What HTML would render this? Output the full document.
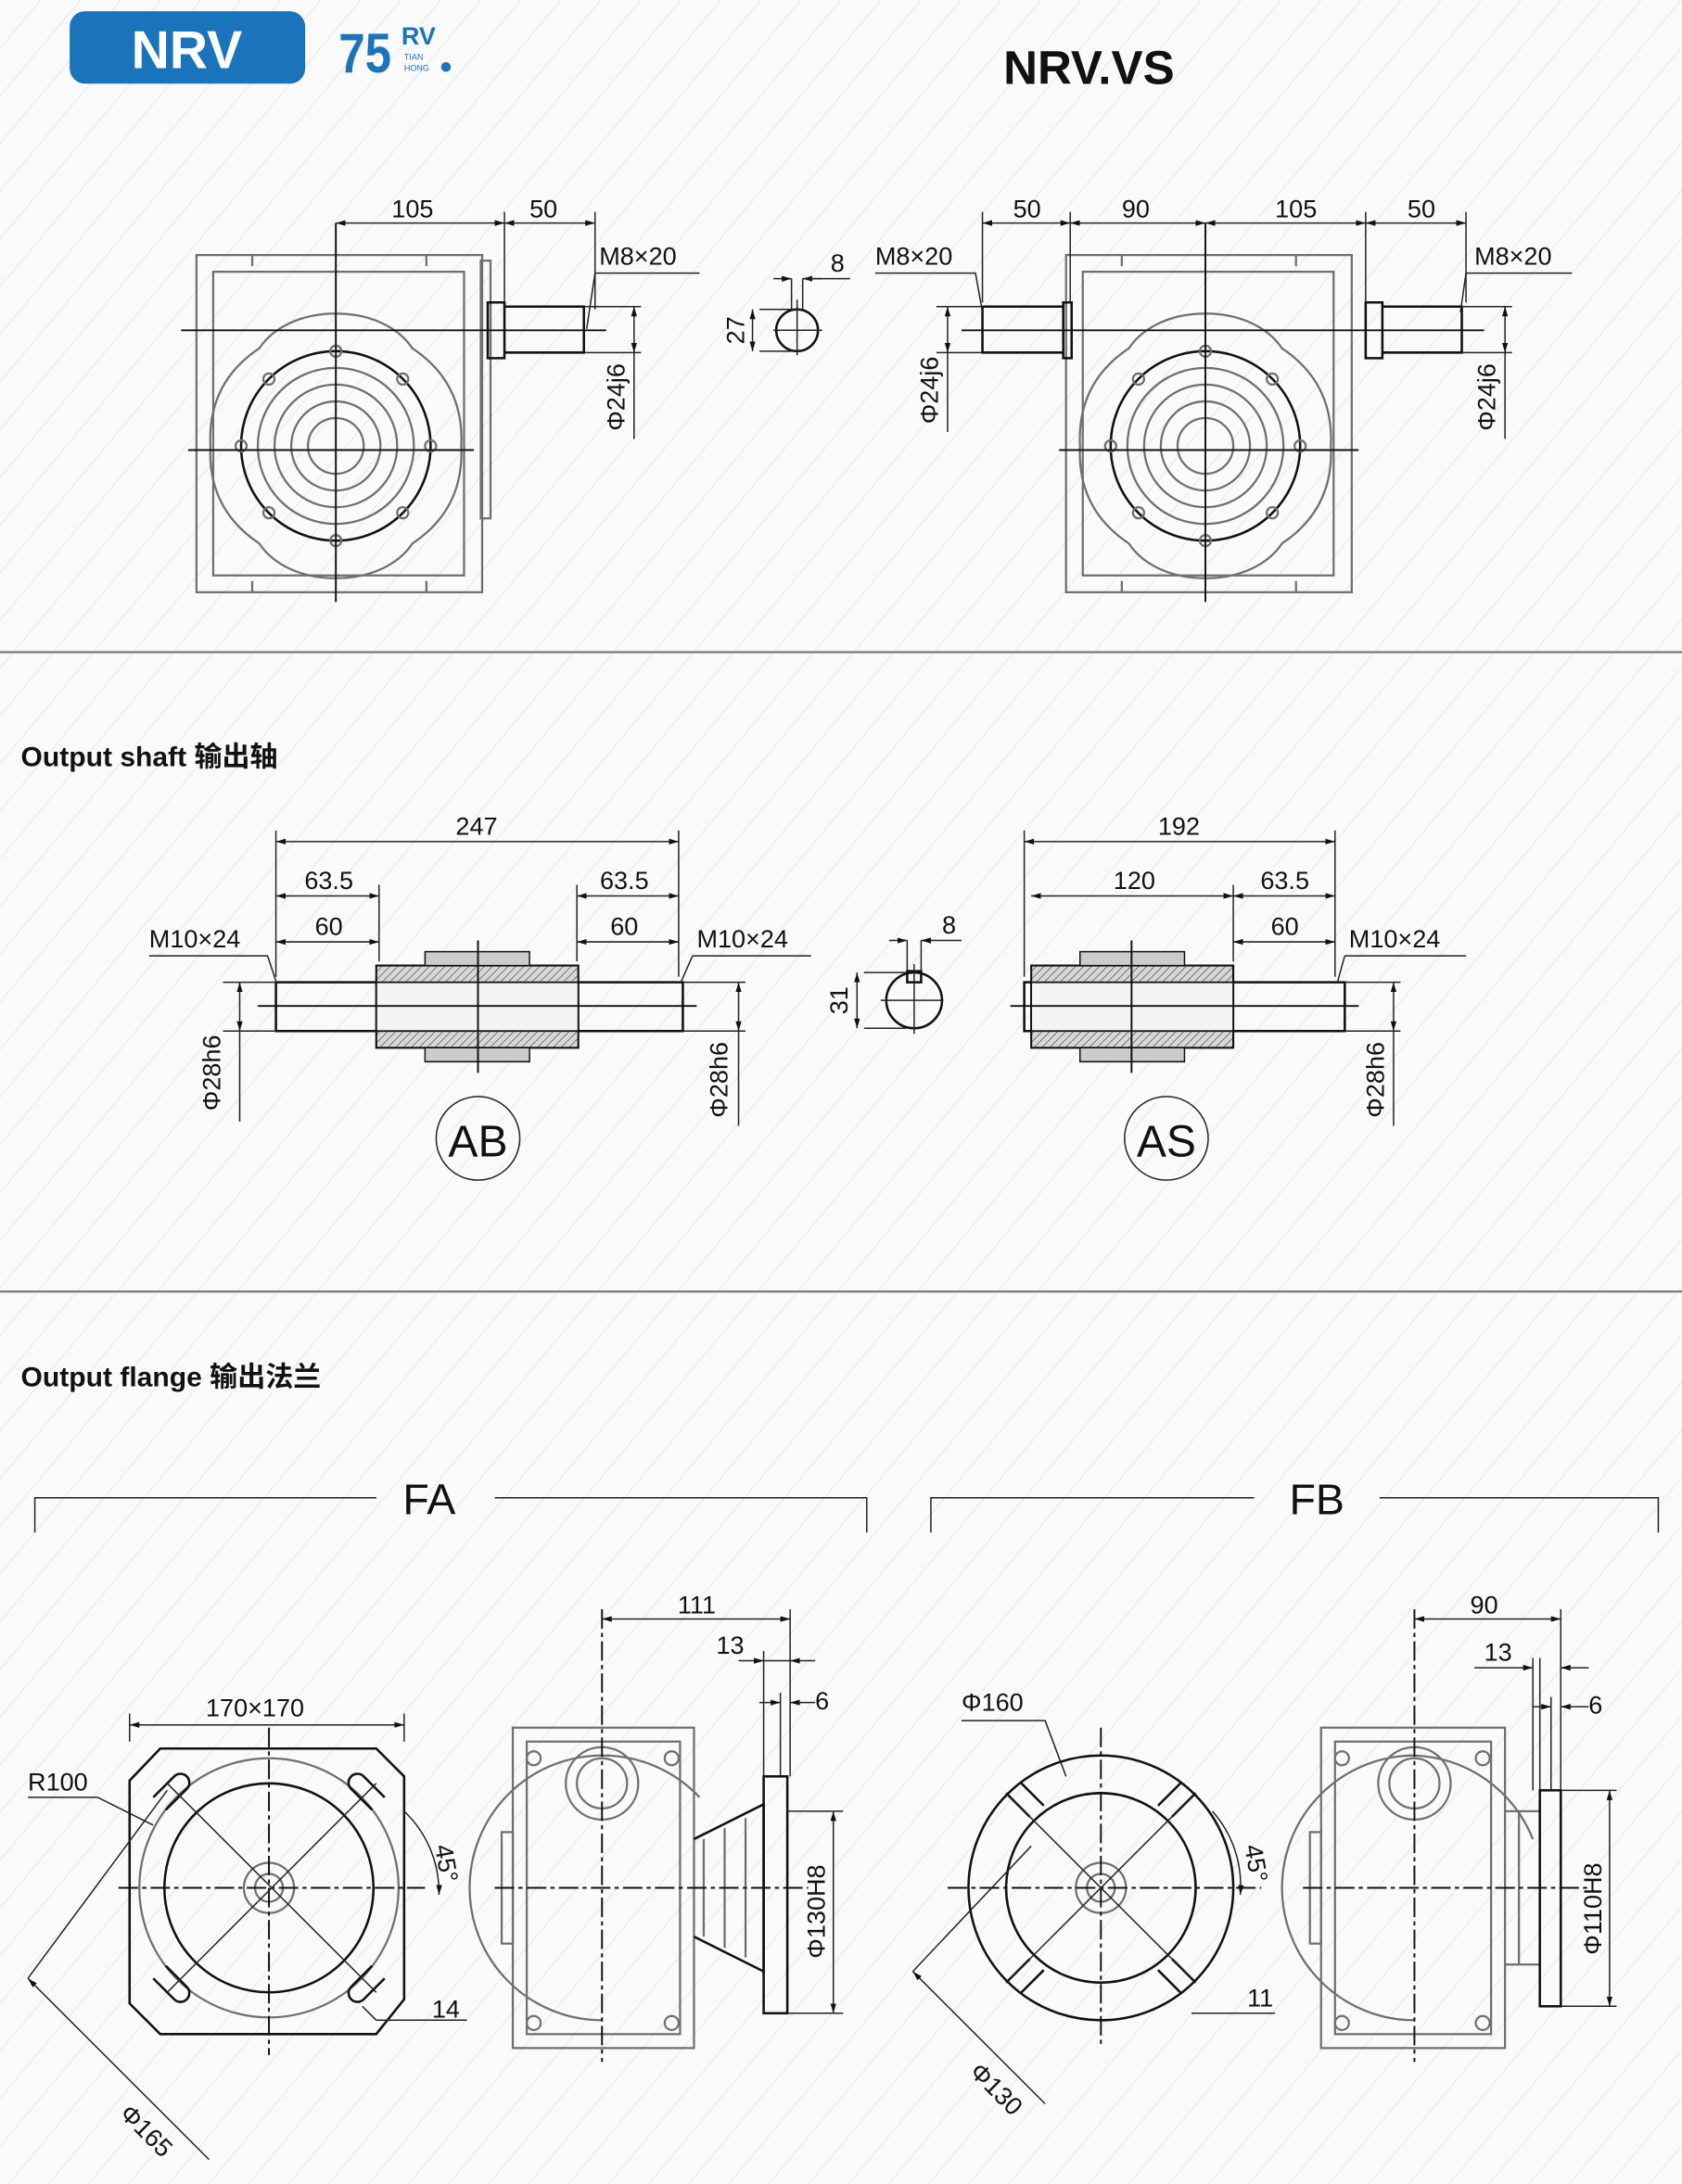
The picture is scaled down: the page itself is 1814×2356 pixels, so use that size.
<!DOCTYPE html>
<html><head><meta charset="utf-8"><style>
html,body{margin:0;padding:0;background:#fafafa}
svg{display:block}
text{font-family:"Liberation Sans","Noto Sans CJK SC",sans-serif;fill:#111}
.d{stroke:#222;stroke-width:1;fill:none}
.g{stroke:#6f6f6f;stroke-width:1.5;fill:none}
.k{stroke:#111;stroke-width:1.7;fill:none}
.c{stroke:#111;stroke-width:1.3}
.t{font-size:18px}
</style></head><body>
<svg width="1814" height="2356" viewBox="0 0 1207 1567.5" xmlns="http://www.w3.org/2000/svg">
<defs>
<pattern id="h" width="22" height="22" patternUnits="userSpaceOnUse" patternTransform="rotate(40)">
<rect width="22" height="22" fill="#fafafa"/><line x1="0" y1="0" x2="0" y2="22" stroke="#dcdcdc" stroke-width="0.8"/>
</pattern>
<pattern id="x" width="4" height="4" patternUnits="userSpaceOnUse" patternTransform="rotate(45)">
<rect width="4" height="4" fill="#d8d8d8"/><line x1="0" y1="0" x2="0" y2="4" stroke="#555" stroke-width="1"/>
</pattern>
<marker id="a" viewBox="0 0 10 10" refX="10" refY="5" markerWidth="7" markerHeight="7" orient="auto-start-reverse"><path d="M0,2 L10,5 L0,8 z" fill="#111"/></marker>
<g id="ring">
<path class="g" d="M-90,0 C-92,-40 -70,-60 -55,-70 C-45,-85 -25,-95 0,-95 C25,-95 45,-85 55,-70 C70,-60 92,-40 90,0 C92,40 70,60 55,70 C45,85 25,95 0,95 C-25,95 -45,85 -55,70 C-70,60 -92,40 -90,0 Z"/>
<circle r="68" class="k"/><circle r="56" class="g"/><circle r="44" class="g"/><circle r="32" class="g"/><circle r="20" class="g"/>
<circle cx="0" cy="-68" r="4" class="g"/><circle cx="0" cy="68" r="4" class="g"/><circle cx="-68" cy="0" r="4" class="g"/><circle cx="68" cy="0" r="4" class="g"/>
<circle cx="-48" cy="-48" r="4" class="g"/><circle cx="48" cy="-48" r="4" class="g"/><circle cx="-48" cy="48" r="4" class="g"/><circle cx="48" cy="48" r="4" class="g"/>
</g>
<g id="box">
<path class="g" d="M-100,-137 h205 v242 h-205 z M-88,-125 h180 v218 h-180 z"/>
<path class="g" d="M-60,-137 v8 M65,-137 v8 M-60,105 v-8 M65,105 v-8"/>
</g>
</defs>
<rect width="1207" height="1567.5" fill="url(#h)"/>

<!-- header -->
<rect x="50" y="8" width="169" height="52" rx="11" fill="#1a74bc"/>
<text x="134" y="49" text-anchor="middle" style="font-size:38px;fill:#fff;font-weight:bold">NRV</text>
<text x="243" y="52" style="font-size:40px;font-weight:bold;fill:#1a74bc" transform="scale(0.85,1)" transform-origin="243 52">75</text>
<text x="288" y="32" style="font-size:18px;font-weight:bold;fill:#1a74bc">RV</text>
<text x="290" y="43" style="font-size:6px;fill:#1a74bc">TIAN</text>
<text x="290" y="51" style="font-size:6px;fill:#1a74bc">HONG</text>
<circle cx="320" cy="48" r="3.5" fill="#1a74bc"/>
<text x="720" y="60" style="font-size:34px;font-weight:bold">NRV.VS</text>

<!-- top left -->
<g transform="translate(241,320)"><use href="#box"/><use href="#ring"/></g>
<rect x="345" y="187" width="7" height="185" class="g"/>
<line class="c" x1="241" y1="160" x2="241" y2="432"/>
<line class="c" x1="130" y1="237" x2="435" y2="237"/>
<line class="c" x1="135" y1="323" x2="340" y2="323"/>
<path class="k" d="M350,217 h12 v40 h-12 z M362,220 h57 v33 h-57 z"/>
<path class="d" d="M362,152 v65 M427,152 v70"/>
<line class="d" x1="241" y1="160" x2="362" y2="160" marker-start="url(#a)" marker-end="url(#a)"/>
<line class="d" x1="362" y1="160" x2="427" y2="160" marker-start="url(#a)" marker-end="url(#a)"/>
<text x="296" y="156" text-anchor="middle" class="t">105</text>
<text x="390" y="156" text-anchor="middle" class="t">50</text>
<text x="430" y="190" class="t">M8×20</text>
<path class="d" d="M427,196 h75 M427,196 l-6,40"/>
<path class="d" d="M420,220 h40 M420,253 h40"/>
<line class="d" x1="455" y1="220" x2="455" y2="253" marker-start="url(#a)" marker-end="url(#a)"/>
<line class="d" x1="455" y1="253" x2="455" y2="315"/>
<text transform="translate(448,285) rotate(-90)" text-anchor="middle" class="t">Φ24j6</text>

<!-- key -->
<circle cx="572" cy="237" r="15" class="k"/>
<path class="d" d="M568,200 v22 M576,200 v22 M545,222 h30 M545,252 h30 M555,237 h35 M572,215 v40"/>
<line class="d" x1="555" y1="200" x2="568" y2="200" marker-end="url(#a)"/>
<line class="d" x1="590" y1="200" x2="576" y2="200" marker-end="url(#a)"/>
<line class="d" x1="576" y1="200" x2="610" y2="200"/>
<text x="596" y="195" class="t">8</text>
<line class="d" x1="540" y1="222" x2="540" y2="252" marker-start="url(#a)" marker-end="url(#a)"/>
<text transform="translate(534,237) rotate(-90)" text-anchor="middle" class="t">27</text>

<!-- top right -->
<g transform="translate(865,320)"><use href="#box"/><use href="#ring"/></g>
<line class="c" x1="865" y1="160" x2="865" y2="432"/>
<line class="c" x1="690" y1="237" x2="1065" y2="237"/>
<line class="c" x1="760" y1="323" x2="975" y2="323"/>
<path class="k" d="M705,220 h58 v33 h-58 z M763,217 h6 v40 h-6 z M980,217 h12 v40 h-12 z M992,220 h57 v33 h-57 z"/>
<path class="d" d="M705,152 v65 M768,152 v65 M980,152 v65 M1052,152 v65"/>
<line class="d" x1="705" y1="160" x2="768" y2="160" marker-start="url(#a)" marker-end="url(#a)"/>
<line class="d" x1="768" y1="160" x2="865" y2="160" marker-start="url(#a)" marker-end="url(#a)"/>
<line class="d" x1="865" y1="160" x2="980" y2="160" marker-start="url(#a)" marker-end="url(#a)"/>
<line class="d" x1="980" y1="160" x2="1052" y2="160" marker-start="url(#a)" marker-end="url(#a)"/>
<text x="737" y="156" text-anchor="middle" class="t">50</text>
<text x="815" y="156" text-anchor="middle" class="t">90</text>
<text x="930" y="156" text-anchor="middle" class="t">105</text>
<text x="1020" y="156" text-anchor="middle" class="t">50</text>
<text x="628" y="190" class="t">M8×20</text>
<path class="d" d="M628,196 h72 l5,28"/>
<text x="1058" y="190" class="t">M8×20</text>
<path class="d" d="M1052,196 h76 M1052,196 l-4,28"/>
<path class="d" d="M672,220 h33 M672,253 h33 M1050,220 h35 M1050,253 h35"/>
<line class="d" x1="680" y1="220" x2="680" y2="253" marker-start="url(#a)" marker-end="url(#a)"/>
<line class="d" x1="680" y1="253" x2="680" y2="310"/>
<text transform="translate(673,280) rotate(-90)" text-anchor="middle" class="t">Φ24j6</text>
<line class="d" x1="1080" y1="220" x2="1080" y2="253" marker-start="url(#a)" marker-end="url(#a)"/>
<line class="d" x1="1080" y1="253" x2="1080" y2="315"/>
<text transform="translate(1073,285) rotate(-90)" text-anchor="middle" class="t">Φ24j6</text>

<line x1="0" y1="468" x2="1207" y2="468" stroke="#777" stroke-width="1.5"/>
<text x="15" y="550" style="font-size:20px;font-weight:600">Output shaft 输出轴</text>

<!-- AB -->
<g>
<path class="k" d="M198,705 h292 v35 h-292 z"/>
<path d="M270,693 h145 v59 h-145 z" fill="url(#x)" stroke="#111" stroke-width="1.4"/>
<path d="M305,683 h75 v10 h-75 z M305,752 h75 v10 h-75 z" fill="#ccc" stroke="#111"/>
<rect x="270" y="705" width="145" height="35" fill="#f4f4f4" stroke="#111" stroke-width="1.2"/>
<line class="c" x1="343" y1="675" x2="343" y2="770"/>
<line class="c" x1="185" y1="722" x2="500" y2="722"/>
<path class="d" d="M198,596 v105 M487,596 v105 M272,635 v55 M414,635 v55"/>
<line class="d" x1="198" y1="604" x2="487" y2="604" marker-start="url(#a)" marker-end="url(#a)"/>
<line class="d" x1="198" y1="643" x2="272" y2="643" marker-start="url(#a)" marker-end="url(#a)"/>
<line class="d" x1="414" y1="643" x2="487" y2="643" marker-start="url(#a)" marker-end="url(#a)"/>
<line class="d" x1="198" y1="676" x2="272" y2="676" marker-start="url(#a)" marker-end="url(#a)"/>
<line class="d" x1="414" y1="676" x2="487" y2="676" marker-start="url(#a)" marker-end="url(#a)"/>
<text x="342" y="599" text-anchor="middle" class="t">247</text>
<text x="236" y="638" text-anchor="middle" class="t">63.5</text>
<text x="448" y="638" text-anchor="middle" class="t">63.5</text>
<text x="236" y="671" text-anchor="middle" class="t">60</text>
<text x="448" y="671" text-anchor="middle" class="t">60</text>
<text x="107" y="680" class="t">M10×24</text>
<path class="d" d="M107,686 h85 l6,18"/>
<text x="500" y="680" class="t">M10×24</text>
<path class="d" d="M497,686 h85 M497,686 l-8,18"/>
<path class="d" d="M160,705 h38 M160,740 h38 M490,705 h45 M490,740 h45"/>
<line class="d" x1="172" y1="705" x2="172" y2="740" marker-start="url(#a)" marker-end="url(#a)"/>
<line class="d" x1="172" y1="740" x2="172" y2="805"/>
<text transform="translate(158,770) rotate(-90)" text-anchor="middle" class="t">Φ28h6</text>
<line class="d" x1="530" y1="705" x2="530" y2="740" marker-start="url(#a)" marker-end="url(#a)"/>
<line class="d" x1="530" y1="740" x2="530" y2="808"/>
<text transform="translate(522,775) rotate(-90)" text-anchor="middle" class="t">Φ28h6</text>
<circle cx="343" cy="817" r="30" class="d"/>
<text x="343" y="830" text-anchor="middle" style="font-size:32px;font-weight:500">AB</text>
</g>

<!-- key 2 -->
<circle cx="656" cy="718" r="20" class="k"/>
<rect x="651" y="697" width="10" height="8" class="k"/>
<path class="d" d="M651,675 v22 M661,675 v22 M620,698 h30 M620,738 h30 M632,718 h45 M656,692 v50"/>
<line class="d" x1="638" y1="675" x2="651" y2="675" marker-end="url(#a)"/>
<line class="d" x1="690" y1="675" x2="661" y2="675" marker-end="url(#a)"/>
<text x="676" y="670" class="t">8</text>
<line class="d" x1="615" y1="698" x2="615" y2="738" marker-start="url(#a)" marker-end="url(#a)"/>
<text transform="translate(608,718) rotate(-90)" text-anchor="middle" class="t">31</text>

<!-- AS -->
<g>
<path class="k" d="M735,705 h230 v35 h-230 z"/>
<path d="M740,693 h145 v59 h-145 z" fill="url(#x)" stroke="#111" stroke-width="1.4"/>
<path d="M775,683 h75 v10 h-75 z M775,752 h75 v10 h-75 z" fill="#ccc" stroke="#111"/>
<rect x="740" y="705" width="145" height="35" fill="#f4f4f4" stroke="#111" stroke-width="1.2"/>
<line class="c" x1="812" y1="675" x2="812" y2="770"/>
<line class="c" x1="725" y1="722" x2="975" y2="722"/>
<path class="d" d="M735,596 v105 M958,596 v105 M885,635 v55"/>
<line class="d" x1="735" y1="604" x2="958" y2="604" marker-start="url(#a)" marker-end="url(#a)"/>
<line class="d" x1="740" y1="643" x2="885" y2="643" marker-start="url(#a)" marker-end="url(#a)"/>
<line class="d" x1="885" y1="643" x2="958" y2="643" marker-start="url(#a)" marker-end="url(#a)"/>
<line class="d" x1="885" y1="676" x2="958" y2="676" marker-start="url(#a)" marker-end="url(#a)"/>
<text x="846" y="599" text-anchor="middle" class="t">192</text>
<text x="814" y="638" text-anchor="middle" class="t">120</text>
<text x="922" y="638" text-anchor="middle" class="t">63.5</text>
<text x="922" y="671" text-anchor="middle" class="t">60</text>
<text x="968" y="680" class="t">M10×24</text>
<path class="d" d="M965,686 h87 M965,686 l-5,18"/>
<path class="d" d="M965,705 h40 M965,740 h40"/>
<line class="d" x1="1000" y1="705" x2="1000" y2="740" marker-start="url(#a)" marker-end="url(#a)"/>
<line class="d" x1="1000" y1="740" x2="1000" y2="808"/>
<text transform="translate(993,775) rotate(-90)" text-anchor="middle" class="t">Φ28h6</text>
<circle cx="837" cy="817" r="30" class="d"/>
<text x="837" y="830" text-anchor="middle" style="font-size:32px;font-weight:500">AS</text>
</g>

<line x1="0" y1="927" x2="1207" y2="927" stroke="#777" stroke-width="1.5"/>
<text x="15" y="995" style="font-size:20px;font-weight:600">Output flange 输出法兰</text>

<!-- brackets -->
<path class="d" d="M25,1100 v-25 h245 M355,1075 h267 v25"/>
<text x="308" y="1087" text-anchor="middle" style="font-size:31px">FA</text>
<path class="d" d="M668,1100 v-25 h232 M990,1075 h200 v25"/>
<text x="945" y="1087" text-anchor="middle" style="font-size:31px">FB</text>

<!-- FA front -->
<g>
<path class="k" d="M115,1255 h155 l20,20 v160 l-20,25 h-155 l-22,-22 v-160 z"/>
<circle cx="193" cy="1355" r="75" class="k"/>
<circle cx="193" cy="1355" r="93" class="g"/>
<circle cx="193" cy="1355" r="18" class="g"/><circle cx="193" cy="1355" r="10" class="g"/>
<g class="k">
<path d="M110,1290 l15,-15 a6,6 0 0 1 9,9 l-15,15" /><path d="M276,1290 l-15,-15 a6,6 0 0 0 -9,9 l15,15"/>
<path d="M110,1420 l15,15 a6,6 0 0 0 9,-9 l-15,-15"/><path d="M276,1420 l-15,15 a6,6 0 0 1 -9,-9 l15,-15"/>
</g>
<line class="c" x1="85" y1="1355" x2="305" y2="1355" stroke-dasharray="14 3 3 3"/>
<line class="c" x1="193" y1="1240" x2="193" y2="1475" stroke-dasharray="14 3 3 3"/>
<line class="d" x1="120" y1="1280" x2="270" y2="1430"/>
<line class="d" x1="120" y1="1430" x2="270" y2="1280"/>
<path class="d" d="M93,1230 v20 M290,1230 v20"/>
<line class="d" x1="93" y1="1238" x2="290" y2="1238" marker-start="url(#a)" marker-end="url(#a)"/>
<text x="183" y="1232" text-anchor="middle" class="t">170×170</text>
<text x="20" y="1285" class="t">R100</text>
<path class="d" d="M20,1290 h50 l40,20"/>
<path class="d" d="M290,1300 a80,80 0 0 1 25,60" marker-end="url(#a)"/>
<text transform="translate(312,1325) rotate(80)" class="t">45°</text>
<line class="d" x1="20" y1="1420" x2="150" y2="1550" marker-start="url(#a)"/>
<line class="d" x1="120" y1="1285" x2="20" y2="1420"/>
<text transform="translate(85,1518) rotate(45)" class="t">Φ165</text>
<text x="310" y="1448" class="t">14</text>
<path class="d" d="M270,1450 h65 M260,1440 l10,10"/>
</g>

<!-- FA side -->
<g>
<path class="g" d="M432,1260 a95,95 0 0 0 -95,95 a95,95 0 0 0 95,95"/>
<path class="g" d="M432,1260 a95,95 0 0 1 70,30"/>
<rect x="368" y="1240" width="130" height="230" class="g"/>
<rect x="378" y="1250" width="110" height="210" class="g"/>
<circle cx="432" cy="1280" r="26" class="g"/><circle cx="432" cy="1280" r="18" class="g"/>
<circle cx="383" cy="1262" r="5" class="g"/><circle cx="482" cy="1262" r="5" class="g"/>
<circle cx="383" cy="1452" r="5" class="g"/><circle cx="482" cy="1452" r="5" class="g"/>
<rect x="360" y="1315" width="8" height="80" class="g"/>
<path class="k" d="M498,1320 l50,-25 v120 l-50,-25"/>
<path class="g" d="M505,1320 v70 M520,1312 v86 M535,1305 v100"/>
<rect x="548" y="1275" width="17" height="170" class="k"/>
<line class="c" x1="355" y1="1355" x2="580" y2="1355" stroke-dasharray="14 3 3 3"/>
<line class="c" x1="432" y1="1155" x2="432" y2="1480" stroke-dasharray="14 3 3 3"/>
<path class="d" d="M567,1155 v120 M548,1185 v90 M560,1215 v60"/>
<line class="d" x1="432" y1="1162" x2="567" y2="1162" marker-start="url(#a)" marker-end="url(#a)"/>
<line class="d" x1="530" y1="1192" x2="548" y2="1192" marker-end="url(#a)"/>
<line class="d" x1="585" y1="1192" x2="567" y2="1192" marker-end="url(#a)"/>
<line class="d" x1="548" y1="1192" x2="567" y2="1192"/>
<line class="d" x1="545" y1="1222" x2="560" y2="1222" marker-end="url(#a)"/>
<line class="d" x1="585" y1="1222" x2="567" y2="1222" marker-end="url(#a)"/>
<text x="500" y="1158" text-anchor="middle" class="t">111</text>
<text x="524" y="1187" text-anchor="middle" class="t">13</text>
<text x="590" y="1227" text-anchor="middle" class="t">6</text>
<path class="d" d="M565,1300 h40 M565,1445 h40"/>
<line class="d" x1="598" y1="1300" x2="598" y2="1445" marker-start="url(#a)" marker-end="url(#a)"/>
<text transform="translate(592,1372) rotate(-90)" text-anchor="middle" class="t">Φ130H8</text>
</g>

<!-- FB front -->
<g>
<circle cx="790" cy="1355" r="95" class="k"/>
<circle cx="790" cy="1355" r="68" class="k"/>
<circle cx="790" cy="1355" r="18" class="g"/><circle cx="790" cy="1355" r="10" class="g"/>
<g class="k">
<path d="M722,1287 l17,17 M732,1279 l17,17"/><path d="M858,1287 l-17,17 M848,1279 l-17,17"/>
<path d="M722,1423 l17,-17 M732,1431 l17,-17"/><path d="M858,1423 l-17,-17 M848,1431 l-17,-17"/>
</g>
<line class="c" x1="680" y1="1355" x2="905" y2="1355" stroke-dasharray="14 3 3 3"/>
<line class="c" x1="790" y1="1240" x2="790" y2="1470" stroke-dasharray="14 3 3 3"/>
<line class="d" x1="725" y1="1290" x2="855" y2="1420"/>
<line class="d" x1="725" y1="1420" x2="855" y2="1290"/>
<text x="690" y="1228" class="t">Φ160</text>
<path class="d" d="M690,1235 h60 l15,40"/>
<path class="d" d="M870,1300 a80,80 0 0 1 20,60" marker-end="url(#a)"/>
<text transform="translate(893,1325) rotate(80)" class="t">45°</text>
<line class="d" x1="655" y1="1415" x2="750" y2="1510" marker-start="url(#a)"/>
<line class="d" x1="655" y1="1415" x2="740" y2="1325"/>
<text transform="translate(695,1488) rotate(45)" class="t">Φ130</text>
<text x="895" y="1440" class="t">11</text>
<path class="d" d="M855,1445 h60"/>
</g>

<!-- FB side -->
<g>
<path class="g" d="M1015,1260 a95,95 0 0 0 -95,95 a95,95 0 0 0 95,95"/>
<path class="g" d="M1015,1260 a95,95 0 0 1 85,60"/>
<rect x="948" y="1240" width="132" height="230" class="g"/>
<rect x="958" y="1250" width="112" height="210" class="g"/>
<circle cx="1015" cy="1280" r="26" class="g"/><circle cx="1015" cy="1280" r="18" class="g"/>
<circle cx="963" cy="1262" r="5" class="g"/><circle cx="1064" cy="1262" r="5" class="g"/>
<circle cx="963" cy="1452" r="5" class="g"/><circle cx="1064" cy="1452" r="5" class="g"/>
<rect x="940" y="1315" width="8" height="80" class="g"/>
<path class="g" d="M1080,1300 h25 M1080,1410 h25 M1090,1300 v110"/>
<rect x="1105" y="1285" width="15" height="155" class="k"/>
<line class="c" x1="935" y1="1355" x2="1140" y2="1355" stroke-dasharray="14 3 3 3"/>
<line class="c" x1="1015" y1="1155" x2="1015" y2="1480" stroke-dasharray="14 3 3 3"/>
<path class="d" d="M1120,1155 v130 M1105,1190 v95 M1113,1218 v67 M1100,1190 v95"/>
<line class="d" x1="1015" y1="1162" x2="1120" y2="1162" marker-start="url(#a)" marker-end="url(#a)"/>
<line class="d" x1="1058" y1="1197" x2="1100" y2="1197" marker-end="url(#a)"/>
<line class="d" x1="1140" y1="1197" x2="1120" y2="1197" marker-end="url(#a)"/>
<line class="d" x1="1100" y1="1225" x2="1113" y2="1225" marker-end="url(#a)"/>
<line class="d" x1="1140" y1="1225" x2="1120" y2="1225" marker-end="url(#a)"/>
<text x="1065" y="1158" text-anchor="middle" class="t">90</text>
<text x="1075" y="1192" text-anchor="middle" class="t">13</text>
<text x="1145" y="1230" text-anchor="middle" class="t">6</text>
<path class="d" d="M1120,1285 h40 M1120,1440 h40"/>
<line class="d" x1="1155" y1="1285" x2="1155" y2="1440" marker-start="url(#a)" marker-end="url(#a)"/>
<text transform="translate(1149,1370) rotate(-90)" text-anchor="middle" class="t">Φ110H8</text>
</g>
</svg>
</body></html>
